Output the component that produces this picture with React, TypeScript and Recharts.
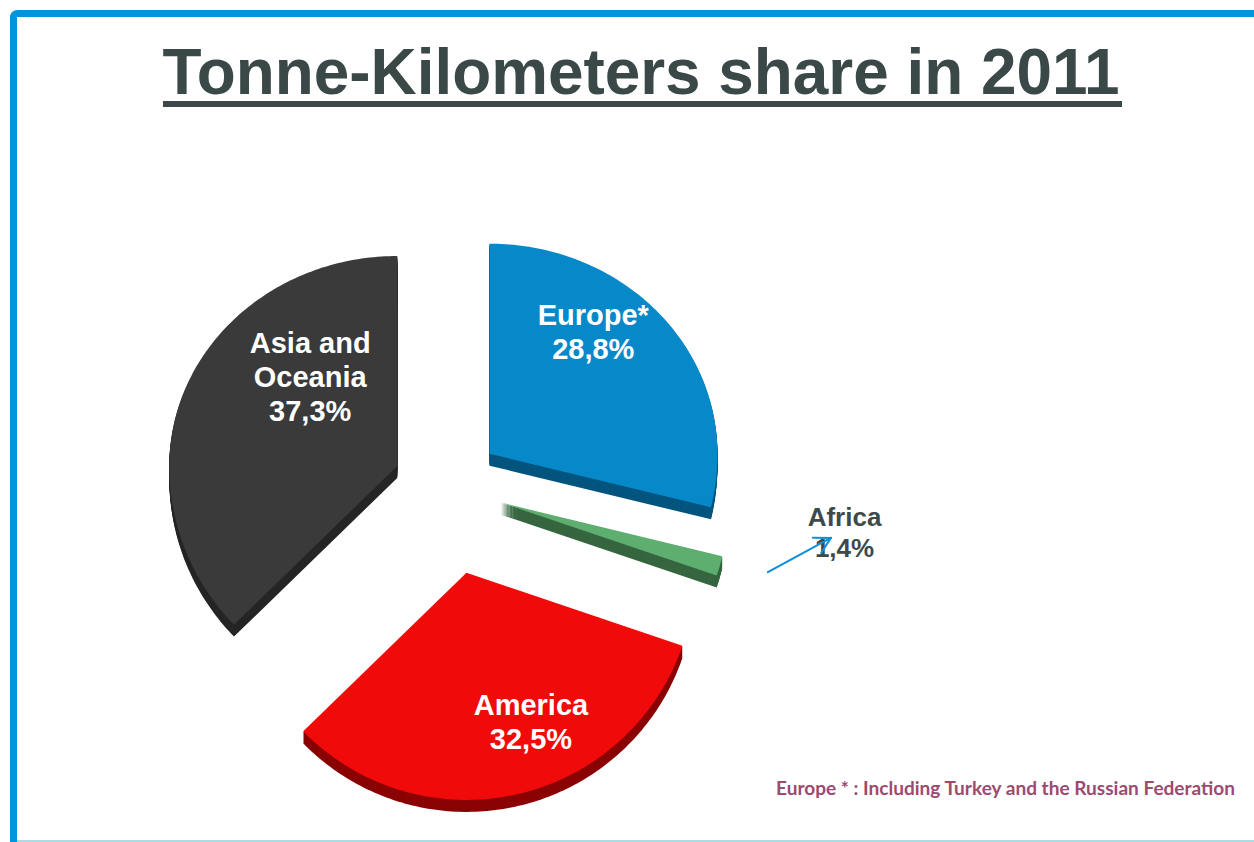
import React from 'react';
import { PieChart, Pie, Cell } from 'recharts';

// ---- data ----
const REGIONS = ['Europe*', 'Africa', 'America', 'Asia and Oceania'];
const NAME_LINES = [['Europe*'], ['Africa'], ['America'], ['Asia and', 'Oceania']];
const SHARES = [28.8, 1.4, 32.5, 37.3];
const TITLE = 'Tonne-Kilometers share in 2011';
const FOOTNOTE = 'Europe * :  Including Turkey and the Russian Federation';

// ---- styles ----
const TOP_COLORS = ['#0789C9', '#5EAE6F', '#F10A0A', '#3A3A3A'];
const SIDE_COLORS = ['#03557E', '#36663F', '#8A0303', '#262626'];
const EXPLODE = [54, 56, 88, 54];
const LABEL_POS = [
  { r: 160, shift: 11.4 },
  { r: 345, shift: 11.3 },
  { r: 162.5, shift: 10.6 },
  { r: 124.5, shift: -22.8 },
];
const OUTSIDE = [false, true, false, false];
const ARROW = { r0: 276, a0: 1.6, r1: 332, a1: 10.1 };
const DEPTH = 12;
const FONT = '"Liberation Sans", Arial, sans-serif';

const tableData = REGIONS.map((name, i) => ({ name, value: SHARES[i], lines: NAME_LINES[i] }));

const RAD = Math.PI / 180;
const fmt = (v: number) => `${v.toFixed(1).replace('.', ',')}%`;

const SliceShape = (props: any) => {
  const { cx, cy, outerRadius, startAngle, endAngle, index } = props;
  const mid = (startAngle + endAngle) / 2;
  const d = EXPLODE[index];
  const ax = cx + d * Math.cos(mid * RAD);
  const ay = cy - d * Math.sin(mid * RAD);
  const rx = outerRadius;
  const ryT = outerRadius * 0.921;
  const ryB = outerRadius * 0.996;
  const pts: number[][] = [[ax, ay]];
  const n = Math.max(4, Math.ceil(Math.abs(endAngle - startAngle)));
  for (let i = 0; i <= n; i++) {
    const a = startAngle + ((endAngle - startAngle) * i) / n;
    const s = Math.sin(a * RAD);
    pts.push([ax + rx * Math.cos(a * RAD), ay - (s > 0 ? ryT : ryB) * s]);
  }
  const path = (dy: number) =>
    'M' + pts.map((p) => `${p[0].toFixed(2)},${(p[1] + dy).toFixed(2)}`).join('L') + 'Z';
  const sides = [];
  for (let k = DEPTH; k >= 1; k--) {
    sides.push(<path key={k} d={path(k)} fill={SIDE_COLORS[index]} stroke="none" />);
  }
  const lp = LABEL_POS[index];
  const la = (mid + lp.shift) * RAD;
  const lx = ax + lp.r * Math.cos(la);
  const ly = ay - lp.r * Math.sin(la);
  const lines = [...(props.payload?.lines || NAME_LINES[index]), fmt(SHARES[index])];
  const outside = OUTSIDE[index];
  const lh = outside ? 31 : 34;
  const fs = outside ? 26 : 29;
  const first = ly - ((lines.length - 1) * lh) / 2;
  let arrow = null;
  if (outside) {
    const a0 = (mid + ARROW.a0) * RAD;
    const a1 = (mid + ARROW.a1) * RAD;
    const x0 = ax + ARROW.r0 * Math.cos(a0);
    const y0 = ay - ARROW.r0 * Math.sin(a0);
    const x1 = ax + ARROW.r1 * Math.cos(a1);
    const y1 = ay - ARROW.r1 * Math.sin(a1);
    const ang = Math.atan2(y1 - y0, x1 - x0);
    const hl = 18;
    const h1 = ang + Math.PI - 0.5;
    const h2 = ang + Math.PI + 0.5;
    arrow = (
      <g stroke="#0C8FD6" strokeWidth={2} fill="none" strokeLinecap="round">
        <line x1={x0} y1={y0} x2={x1} y2={y1} />
        <line x1={x1} y1={y1} x2={x1 + hl * Math.cos(h1)} y2={y1 + hl * Math.sin(h1)} />
        <line x1={x1} y1={y1} x2={x1 + hl * Math.cos(h2)} y2={y1 + hl * Math.sin(h2)} />
      </g>
    );
  }
  return (
    <g>
      {sides}
      <path d={path(0)} fill={TOP_COLORS[index]} stroke="none" />
      <text
        textAnchor="middle"
        fontFamily={FONT}
        fontWeight="bold"
        fontSize={fs}
        fill={outside ? '#3D4A4A' : '#FFFFFF'}
      >
        {lines.map((t: string, i: number) => (
          <tspan key={i} x={lx} y={first + i * lh + fs * 0.36}>
            {t}
          </tspan>
        ))}
      </text>
      {arrow}
    </g>
  );
};

export default function App() {
  return (
    <div style={{ position: 'absolute', left: 0, top: 0, width: 1254, height: 842, background: '#fff' }}>
      <svg width={1254} height={842} style={{ position: 'absolute', left: 0, top: 0 }}>
        <path d="M10,842 L10,18 Q10,10 18,10 L1254,10 L1254,17 L17,17 L17,842 Z" fill="#0094D8" />
        <rect x={17} y={840} width={1237} height={2} fill="#AEDAE8" />
        <text
          x={641}
          y={94}
          textAnchor="middle"
          fontFamily={FONT}
          fontWeight="bold"
          fontSize={64}
          fill="#3B4848"
          textLength={957}
          lengthAdjust="spacingAndGlyphs"
        >
          {TITLE}
        </text>
        <rect x={163} y={101} width={959} height={6} fill="#3B4848" />
        <text
          x={776}
          y={795}
          fontFamily='Lato, "Open Sans", sans-serif'
          fontSize={19}
          fontWeight="bold"
          fill="#9C4A70"
          textLength={459}
          lengthAdjust="spacingAndGlyphs"
        >
          {FOOTNOTE}
        </text>
      </svg>
      <div style={{ position: 'absolute', left: 0, top: 0 }}>
        <PieChart width={1254} height={842} margin={{ top: 0, right: 0, bottom: 0, left: 0 }}>
          <Pie
            data={tableData}
            dataKey="value"
            nameKey="name"
            cx={447}
            cy={487}
            innerRadius={0}
            outerRadius={228}
            startAngle={90}
            endAngle={-270}
            stroke="none"
            isAnimationActive={false}
            shape={SliceShape}
            labelLine={false}
          >
            {tableData.map((_, i) => (
              <Cell key={i} fill={TOP_COLORS[i]} />
            ))}
          </Pie>
        </PieChart>
      </div>
    </div>
  );
}
